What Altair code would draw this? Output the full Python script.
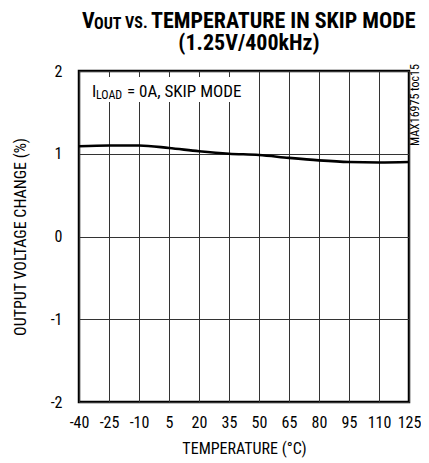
import altair as alt
import pandas as pd

# ---- data ----
TEMPS = [-40, -25, -10, 5, 20, 35, 50, 65, 80, 95, 110, 125]
VOUT_CHANGE = [1.09, 1.10, 1.10, 1.07, 1.03, 1.00, 0.985, 0.95, 0.92, 0.90, 0.895, 0.90]
X_TICKS = [-40, -25, -10, 5, 20, 35, 50, 65, 80, 95, 110, 125]
Y_TICKS = [-2, -1, 0, 1, 2]

FONT = "Roboto Condensed"
W, H = 330, 331

df = pd.DataFrame({"temp": TEMPS, "chg": VOUT_CHANGE})

x_enc = alt.X("temp:Q", scale=alt.Scale(domain=[-40, 125], nice=False, zero=False),
              axis=alt.Axis(values=X_TICKS, title="TEMPERATURE (°C)", grid=True,
                            ticks=False, domain=False, labelPadding=12,
                            labelExpr="'' + datum.value",
                            titleY=46, titleBaseline="middle",
                            labelFontSize=16, titleFontSize=16, labelFlush=False))
y_enc = alt.Y("chg:Q", scale=alt.Scale(domain=[-2, 2], nice=False, zero=False),
              axis=alt.Axis(values=Y_TICKS, title="OUTPUT VOLTAGE CHANGE (%)", grid=True,
                            ticks=False, domain=False, labelPadding=17,
                            labelExpr="'' + datum.value",
                            titleX=-59, titleBaseline="middle",
                            labelFontSize=16, titleFontSize=16, labelFlush=False))

line = alt.Chart(df).mark_line(color="black", strokeWidth=2.6, interpolate="monotone").encode(
    x=x_enc, y=y_enc)


def txt(s, x, y, size, bold=False, align="left", angle=0, baseline="alphabetic"):
    return alt.Chart(pd.DataFrame({"t": [s]})).mark_text(
        font=FONT, fontSize=size, fontWeight="bold" if bold else "normal",
        align=align, baseline=baseline, angle=angle, color="black"
    ).encode(x=alt.value(x), y=alt.value(y), text="t:N")


box = alt.Chart(pd.DataFrame({"t": [0]})).mark_rect(fill="white").encode(
    x=alt.value(2), x2=alt.value(172), y=alt.value(6), y2=alt.value(31))

layers = [
    line, box,
    txt("I", 13, 26, 17),
    txt("LOAD", 17, 28, 12),
    txt("= 0A, SKIP MODE", 48, 26, 17),
    txt("V", 3, -43, 22, bold=True),
    txt("OUT", 15, -42, 16, bold=True),
    txt("VS.", 46, -43, 16, bold=True),
    txt("TEMPERATURE IN SKIP MODE", 72, -43, 22, bold=True),
    txt("(1.25V/400kHz)", 170, -21, 22, bold=True, align="center"),
    txt("MAX16975 toc15", 336, 34, 12, align="center", angle=270, baseline="middle"),
]

chart = alt.layer(*layers).properties(
    width=W, height=H,
    autosize=alt.AutoSizeParams(type="none"),
    padding={"left": 71, "top": 63, "right": 12, "bottom": 58},
).configure_view(
    stroke="black", strokeWidth=2.5
).configure_axis(
    gridColor="#333333", gridWidth=1, gridOpacity=1,
    labelFont=FONT, titleFont=FONT, labelColor="black", titleColor="black",
    titleFontWeight="normal"
)

chart.save("out.html", embed_options={"renderer": "svg", "actions": False})
